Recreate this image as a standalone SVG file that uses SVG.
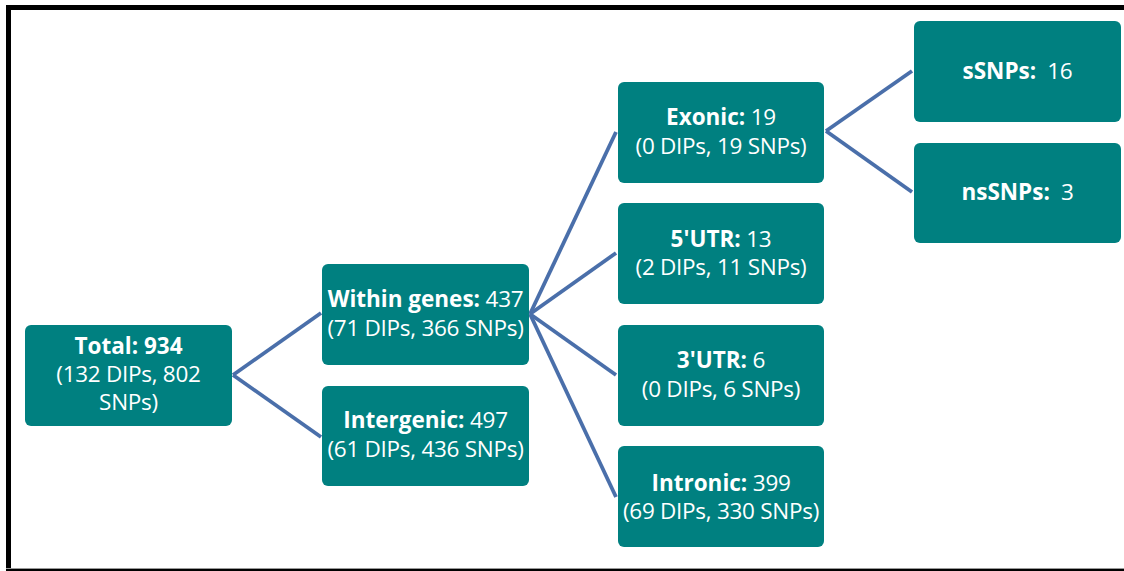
<svg xmlns="http://www.w3.org/2000/svg" width="1124" height="571" viewBox="0 0 1124 571">
<style>
.box{fill:#008080;}
.t{font-family:"Open Sans","Liberation Sans",sans-serif;font-size:22.5px;fill:#ffffff;text-anchor:middle;letter-spacing:-0.28px;}
.b{font-weight:bold;letter-spacing:0;}
.con line{stroke:#4A6FAA;stroke-width:3.8;stroke-linecap:butt;}
</style>
<rect x="0" y="0" width="1124" height="571" fill="#ffffff"/>
<g id="frame">
<rect x="6" y="5" width="1118" height="5" fill="#000"/>
<rect x="6" y="5" width="5" height="566" fill="#000"/>
<rect x="6" y="568" width="1118" height="1" fill="#999"/>
<rect x="6" y="569" width="1118" height="2" fill="#000"/>
</g>
<g id="connectors" class="con">
<line x1="233" y1="375" x2="321" y2="313"/>
<line x1="233" y1="375" x2="321" y2="437"/>
<line x1="530" y1="314" x2="616" y2="132"/>
<line x1="530" y1="314" x2="616" y2="253"/>
<line x1="530" y1="314" x2="616" y2="375"/>
<line x1="530" y1="314" x2="616" y2="497"/>
<line x1="826" y1="131" x2="912" y2="71"/>
<line x1="826" y1="131" x2="912" y2="192"/>
</g>
<g id="total">
<rect class="box" x="25" y="325" width="207" height="101" rx="6"/>
<text class="t b" x="128.5" y="354">Total: 934</text>
<text class="t" x="128.5" y="382">(132 DIPs, 802</text>
<text class="t" x="128.5" y="410">SNPs)</text>
</g>
<g id="within">
<rect class="box" x="322" y="264" width="207" height="101" rx="6"/>
<text class="t" x="425.5" y="307"><tspan class="b">Within genes:</tspan> 437</text>
<text class="t" x="425.5" y="336">(71 DIPs, 366 SNPs)</text>
</g>
<g id="intergenic">
<rect class="box" x="322" y="386" width="207" height="100" rx="6"/>
<text class="t" x="425.5" y="428"><tspan class="b">Intergenic:</tspan> 497</text>
<text class="t" x="425.5" y="457">(61 DIPs, 436 SNPs)</text>
</g>
<g id="exonic">
<rect class="box" x="618" y="82" width="206" height="101" rx="6"/>
<text class="t" x="721" y="125"><tspan class="b">Exonic:</tspan> 19</text>
<text class="t" x="721" y="153.5">(0 DIPs, 19 SNPs)</text>
</g>
<g id="utr5">
<rect class="box" x="618" y="203" width="206" height="101" rx="6"/>
<text class="t" x="721" y="246.5"><tspan class="b">5'UTR:</tspan> 13</text>
<text class="t" x="721" y="275">(2 DIPs, 11 SNPs)</text>
</g>
<g id="utr3">
<rect class="box" x="618" y="325" width="206" height="101" rx="6"/>
<text class="t" x="721" y="368"><tspan class="b">3'UTR:</tspan> 6</text>
<text class="t" x="721" y="396.5">(0 DIPs, 6 SNPs)</text>
</g>
<g id="intronic">
<rect class="box" x="618" y="446" width="206" height="101" rx="6"/>
<text class="t" x="721" y="490.5"><tspan class="b">Intronic:</tspan> 399</text>
<text class="t" x="721" y="518.5">(69 DIPs, 330 SNPs)</text>
</g>
<g id="ssnps">
<rect class="box" x="914" y="21" width="207" height="101" rx="6"/>
<text class="t" x="1017.5" y="79" xml:space="preserve"><tspan class="b">sSNPs:</tspan>  16</text>
</g>
<g id="nssnps">
<rect class="box" x="914" y="143" width="207" height="100" rx="6"/>
<text class="t" x="1017.5" y="200" xml:space="preserve"><tspan class="b">nsSNPs:</tspan>  3</text>
</g>
</svg>
